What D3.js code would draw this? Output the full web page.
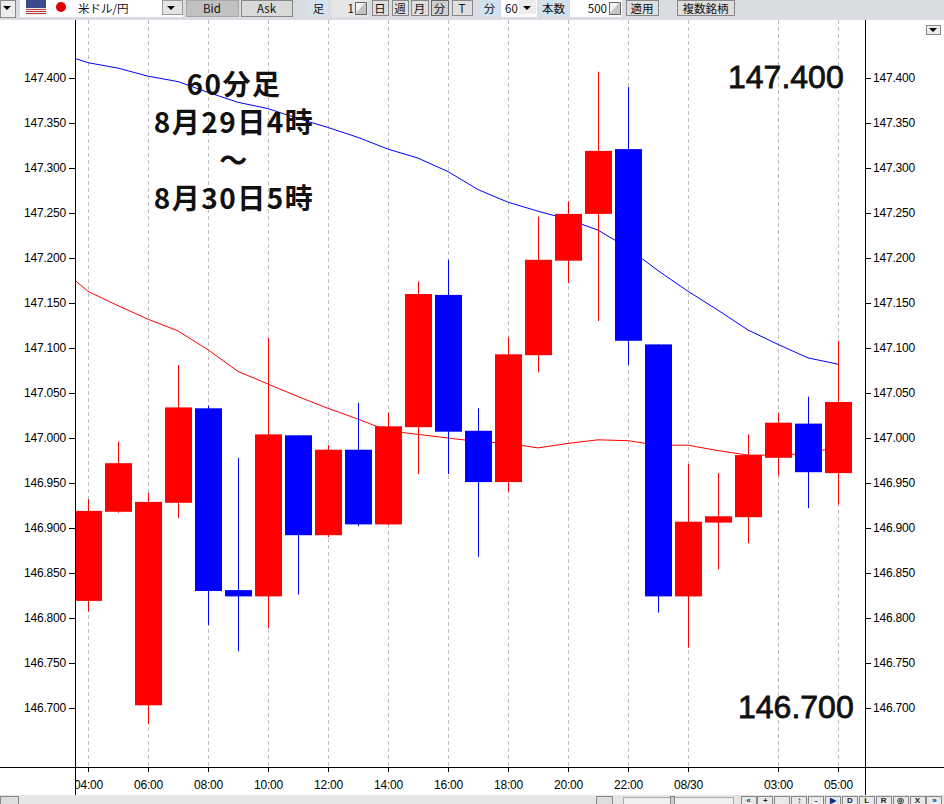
<!DOCTYPE html>
<html>
<head>
<meta charset="utf-8">
<script src="https://cdn.jsdelivr.net/npm/d3@7"></script>
<style>
	html, body { margin: 0; padding: 0; background: #fff; overflow: hidden; }
	svg { display: block; }
	.tick-text { font-family: "Liberation Sans", sans-serif; font-size: 12px; letter-spacing: -0.2px; fill: #000; }
	.tb { font-family: "Noto Sans CJK JP", sans-serif; font-size: 11.5px; fill: #111; }
</style>
</head>
<body>
<script>
// candle data
var labels = ['04:00','05:00','06:00','07:00','08:00','09:00','10:00','11:00','12:00','13:00','14:00','15:00','16:00',
	'17:00','18:00','19:00','20:00','21:00','22:00','23:00','08/30','01:00','02:00','03:00','04:00','05:00'];
var opens = [146.819,146.918,146.703,146.928,147.033,146.831,146.824,147.003,146.892,146.987,146.904,147.012,147.159,
	147.008,146.951,147.092,147.197,147.249,147.321,147.104,146.824,146.906,146.912,146.978,147.016,146.961];
var closes = [146.919,146.972,146.929,147.034,146.830,146.824,147.004,146.892,146.987,146.904,147.013,147.160,147.007,
	146.951,147.093,147.198,147.249,147.319,147.108,146.824,146.907,146.913,146.981,147.017,146.962,147.040];
var highs = [146.932,146.996,146.939,147.081,147.036,146.978,147.111,147.003,146.992,147.039,147.028,147.174,147.198,
	147.033,147.112,147.246,147.263,147.407,147.390,147.104,146.971,146.961,147.004,147.028,147.046,147.108];
var lows = [146.807,146.917,146.682,146.911,146.792,146.763,146.789,146.826,146.890,146.902,146.903,146.960,146.960,
	146.868,146.940,147.073,147.172,147.130,147.081,146.806,146.767,146.854,146.883,146.958,146.922,146.926];

// moving averages, first value belongs to the bar before the left edge
var maLong = [147.428,147.417,147.411,147.402,147.396,147.384,147.373,147.366,147.355,147.345,147.334,147.321,147.311,147.296,
	147.276,147.262,147.252,147.243,147.231,147.211,147.186,147.163,147.142,147.120,147.104,147.089,147.082];
var maShort = [147.191,147.163,147.147,147.132,147.119,147.098,147.074,147.060,147.046,147.033,147.021,147.008,147.004,147.000,
	146.996,146.994,146.989,146.994,146.998,146.997,146.992,146.992,146.986,146.981,146.981,146.983,146.990];

var priceTicks = [147.4,147.35,147.3,147.25,147.2,147.15,147.1,147.05,147.0,146.95,146.9,146.85,146.8,146.75,146.7];
var timeTicks = [0,2,4,6,8,10,12,14,16,18,20,23,25];

var width = 944, height = 804;
var plotLeft = 75, plotRight = 865, plotTop = 20, plotBottom = 767;

var svg = d3.select('body').append('svg')
	.attr('width', width)
	.attr('height', height);

var x = d3.scaleLinear().domain([0, 25]).range([88, 838]);
var y = d3.scaleLinear().domain([147.4, 146.7]).range([78, 708]);

svg.append('clipPath').attr('id', 'plot')
	.append('rect')
	.attr('x', plotLeft).attr('y', plotTop)
	.attr('width', plotRight - plotLeft).attr('height', plotBottom - plotTop);

svg.append('clipPath').attr('id', 'timeClip')
	.append('rect')
	.attr('x', plotLeft).attr('y', plotBottom - 2)
	.attr('width', width - plotLeft).attr('height', 30);

// dashed time grid
svg.append('g').selectAll('line')
	.data(timeTicks)
	.join('line')
	.attr('x1', function(d) { return x(d) + 0.5; })
	.attr('x2', function(d) { return x(d) + 0.5; })
	.attr('y1', plotTop)
	.attr('y2', plotBottom)
	.attr('stroke', '#bdbdbd')
	.attr('stroke-dasharray', '4,3');

var plot = svg.append('g').attr('clip-path', 'url(#plot)');

// moving averages
var maLine = d3.line()
	.x(function(d, i) { return x(i - 1); })
	.y(function(d) { return y(d); });

plot.append('path').datum(maLong)
	.attr('fill', 'none').attr('stroke', '#0000ff').attr('stroke-width', 1)
	.attr('d', maLine);
plot.append('path').datum(maShort)
	.attr('fill', 'none').attr('stroke', '#ff0000').attr('stroke-width', 1)
	.attr('d', maLine);

// candles
function candleColor(i) {
	return closes[i] >= opens[i] ? '#ff0000' : '#0000ff';
}

plot.append('g').selectAll('line')
	.data(labels)
	.join('line')
	.attr('x1', function(d, i) { return x(i) + 0.5; })
	.attr('x2', function(d, i) { return x(i) + 0.5; })
	.attr('y1', function(d, i) { return y(highs[i]); })
	.attr('y2', function(d, i) { return y(lows[i]); })
	.attr('stroke', function(d, i) { return candleColor(i); })
	.attr('stroke-width', 1);

plot.append('g').selectAll('rect')
	.data(labels)
	.join('rect')
	.attr('x', function(d, i) { return x(i) - 13; })
	.attr('width', 27)
	.attr('y', function(d, i) { return y(Math.max(opens[i], closes[i])); })
	.attr('height', function(d, i) { return Math.abs(y(opens[i]) - y(closes[i])); })
	.attr('fill', function(d, i) { return candleColor(i); });

// axes
var yLeft = d3.axisLeft(y).tickValues(priceTicks).tickFormat(d3.format('.3f')).tickSize(6).tickPadding(3);
var yRight = d3.axisRight(y).tickValues(priceTicks).tickFormat(d3.format('.3f')).tickSize(6).tickPadding(2);
var xAxis = d3.axisBottom(x).tickValues(timeTicks)
	.tickFormat(function(d) { return labels[d]; })
	.tickSize(5).tickPadding(6);

function styleAxis(g) {
	g.select('.domain').remove();
	g.selectAll('line').attr('stroke', '#000').attr('shape-rendering', 'crispEdges');
	g.selectAll('text').attr('class', 'tick-text');
}

svg.append('g').attr('transform', 'translate(' + plotLeft + ',0)').call(yLeft).call(styleAxis);
svg.append('g').attr('transform', 'translate(' + plotRight + ',0)').call(yRight).call(styleAxis);
var timeAxis = svg.append('g').attr('clip-path', 'url(#timeClip)')
	.append('g').attr('transform', 'translate(0,' + plotBottom + ')').call(xAxis).call(styleAxis);
timeAxis.selectAll('.tick text').attr('dy', '0.9em');

// frame lines
function rule(x1, y1, x2, y2, color) {
	svg.append('line')
		.attr('x1', x1).attr('y1', y1).attr('x2', x2).attr('y2', y2)
		.attr('stroke', color || '#000')
		.attr('shape-rendering', 'crispEdges');
}
rule(0, plotBottom + 0.5, width, plotBottom + 0.5);

// annotations
var noteFont = '"Noto Sans CJK JP", sans-serif';
var notes = [['60分足', 95], ['8月29日4時', 133], ['～', 171], ['8月30日5時', 209]];
svg.append('g').selectAll('text')
	.data(notes)
	.join('text')
	.attr('x', 234)
	.attr('y', function(d) { return d[1]; })
	.attr('text-anchor', 'middle')
	.attr('font-family', noteFont)
	.attr('font-size', 28)
	.attr('font-weight', 700)
	.attr('letter-spacing', 1.5)
	.attr('fill', '#111')
	.text(function(d) { return d[0]; });

var bigPrices = [['147.400', 728, 88], ['146.700', 738, 718]];
svg.append('g').selectAll('text')
	.data(bigPrices)
	.join('text')
	.attr('x', function(d) { return d[1]; })
	.attr('y', function(d) { return d[2]; })
	.attr('font-family', '"Liberation Sans", sans-serif')
	.attr('font-size', 32)
	.attr('fill', '#111')
	.attr('stroke', '#111')
	.attr('stroke-width', 0.8)
	.text(function(d) { return d[0]; });

// window chrome, top toolbar
var chrome = svg.append('g');
chrome.append('rect').attr('width', width).attr('height', 20).attr('fill', '#d9dce1');

function box(x0, w, fill, label, opts) {
	opts = opts || {};
	var h = opts.h || 17;
	var y0 = opts.y === undefined ? 0 : opts.y;
	chrome.append('rect').attr('x', x0).attr('y', y0).attr('width', w).attr('height', h)
		.attr('fill', fill)
		.attr('stroke', opts.stroke || 'none')
		.attr('shape-rendering', 'crispEdges');
	if (label) {
		chrome.append('text').attr('class', 'tb')
			.attr('x', opts.tx === undefined ? x0 + w / 2 : opts.tx)
			.attr('y', y0 + 12.5)
			.attr('text-anchor', opts.anchor || 'middle')
			.text(label);
	}
}
function arrow(cx, cy, s, color) {
	chrome.append('path')
		.attr('d', 'M' + (cx - s) + ',' + cy + 'h' + (2 * s) + 'l' + (-s) + ',' + s + 'z')
		.attr('fill', color || '#000');
}
// spin button with the grey corner
function spinner(x0) {
	box(x0, 11, '#f2f2f2', '', {stroke: '#666', h: 12, y: 2});
	chrome.append('path')
		.attr('d', 'M' + x0 + ',14L' + (x0 + 11) + ',2V14Z')
		.attr('fill', '#c4c4c4');
}

box(0, 15, '#ececec', '', {stroke: '#888'});
arrow(7, 6, 4);
box(20, 163, '#fff', '米ドル/円', {tx: 78, anchor: 'start'});
box(26, 20, '#f0e8e8', '', {h: 15});
chrome.append('rect').attr('x', 26).attr('y', 0).attr('width', 20).attr('height', 8).attr('fill', '#3b4a8c');
[9, 11, 13].forEach(function(ry) {
	chrome.append('rect').attr('x', 26).attr('y', ry).attr('width', 20).attr('height', 1).attr('fill', '#c04040');
});
chrome.append('circle').attr('cx', 61).attr('cy', 7).attr('r', 5).attr('fill', '#e00000');
box(162, 20, '#e4e4e4', '', {stroke: '#999', h: 14});
arrow(171, 6, 4);
box(186, 52, '#c1c1c1', 'Bid', {stroke: '#a8a8a8', h: 16});
box(241, 51, '#d9d9d9', 'Ask', {stroke: '#888', h: 16});
box(309, 19, '#d3e2ef', '足', {h: 16});
box(331, 37, '#e6e6e6', '1', {tx: 354, anchor: 'end'});
spinner(355);
box(372, 16, '#dfdfdf', '日', {stroke: '#888', h: 15});
box(392, 16, '#dfdfdf', '週', {stroke: '#888', h: 15});
box(411, 17, '#dfdfdf', '月', {stroke: '#888', h: 15});
box(431, 17, '#cfcfcf', '分', {stroke: '#666', h: 15});
box(452, 20, '#dfdfdf', 'T', {stroke: '#888', h: 15});
box(480, 19, '#d3e2ef', '分', {h: 16});
box(501, 36, '#fff', '60', {tx: 505, anchor: 'start'});
box(519, 17, '#ececec', '', {h: 14});
arrow(527, 6, 4);
box(539, 29, '#d3e2ef', '本数', {h: 16});
box(570, 52, '#fff', '500', {tx: 607, anchor: 'end'});
spinner(609);
box(626, 32, '#dfdfdf', '適用', {stroke: '#888', h: 15});
box(677, 57, '#dfdfdf', '複数銘柄', {stroke: '#888', h: 15});

// little menu button, top right
box(926, 14, '#ececec', '', {stroke: '#888', h: 9, y: 25});
arrow(933, 28, 4);

// bottom strip
box(0, width, '#e6e6e6', '', {h: 9, y: 795});
box(0, 18, '#dddddd', '', {stroke: '#888', h: 12, y: 796});
box(596, 16, '#dddddd', '', {stroke: '#888', h: 12, y: 796});
box(623, 110, '#efefef', '', {stroke: '#aaa', h: 12, y: 797});
box(670, 4, '#cccccc', '', {stroke: '#888', h: 12, y: 796});
var stripButtons = ['«', '+', '', '↕', '-', '▶', 'D', 'L', 'R', '◎', 'X', '»'];
chrome.append('g').selectAll('rect')
	.data(stripButtons)
	.join('rect')
	.attr('x', function(d, i) { return 741 + i * 16.9; })
	.attr('y', 796)
	.attr('width', 15)
	.attr('height', 12)
	.attr('fill', '#e9e9e9')
	.attr('stroke', '#888')
	.attr('shape-rendering', 'crispEdges');
chrome.append('g').selectAll('text')
	.data(stripButtons)
	.join('text')
	.attr('x', function(d, i) { return 748.5 + i * 16.9; })
	.attr('y', 803)
	.attr('text-anchor', 'middle')
	.attr('font-family', '"Liberation Sans", sans-serif')
	.attr('font-weight', 700)
	.attr('font-size', 8)
	.attr('fill', function(d, i) { return (i < 1 || (i > 2 && i < 6) || i == 11) ? '#00307f' : '#222'; })
	.text(function(d) { return d; });

// axis verticals go over the strip and toolbar edge
rule(plotLeft + 0.5, plotTop, plotLeft + 0.5, 795);
rule(plotRight + 0.5, plotTop, plotRight + 0.5, 795);
</script>
</body>
</html>
